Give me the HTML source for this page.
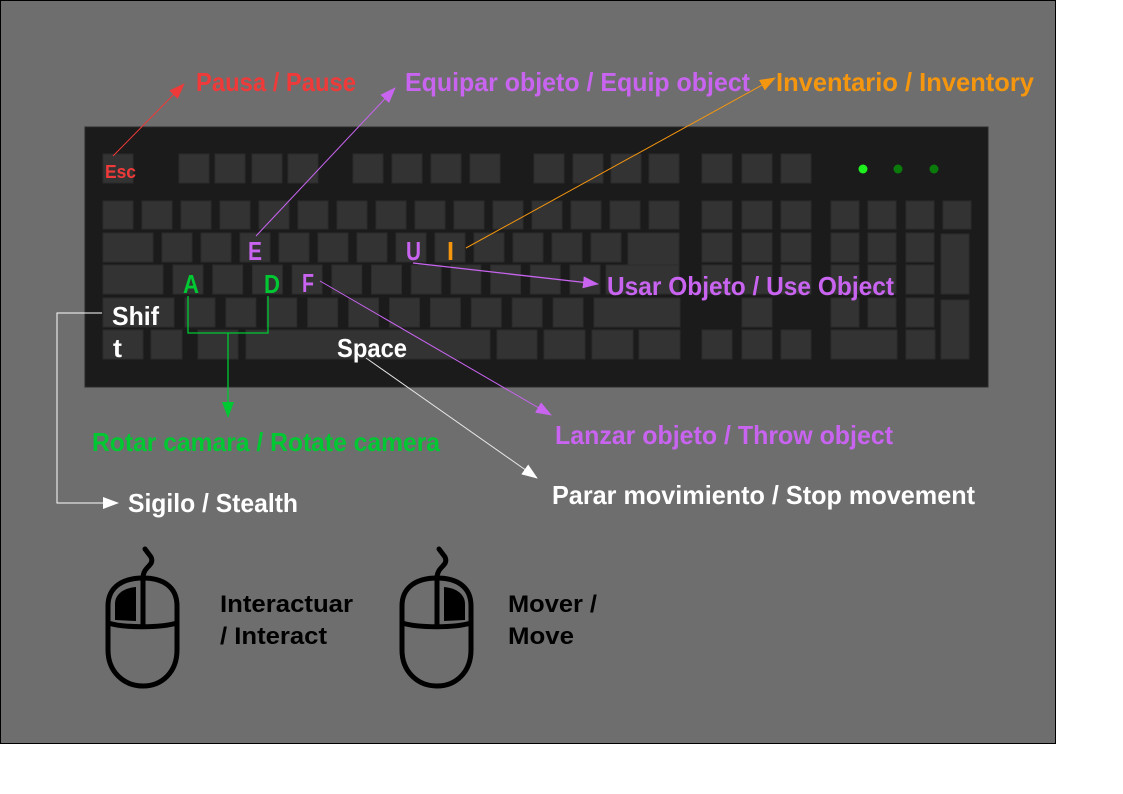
<!DOCTYPE html>
<html><head><meta charset="utf-8"><style>
html,body{margin:0;padding:0;background:#fff;}
svg{display:block;}
text{font-family:"Liberation Sans",sans-serif;font-weight:bold;}
</style></head><body>
<svg id="s" width="1123" height="794" viewBox="0 0 1123 794" xmlns="http://www.w3.org/2000/svg">
<defs>
<marker id="aR" markerWidth="16" markerHeight="12" refX="15" refY="6" orient="auto" markerUnits="userSpaceOnUse"><path d="M0,0 L16,6 L0,12 Z" fill="#f03a3a"/></marker>
<marker id="aP" markerWidth="16" markerHeight="12" refX="15" refY="6" orient="auto" markerUnits="userSpaceOnUse"><path d="M0,0 L16,6 L0,12 Z" fill="#c864f0"/></marker>
<marker id="aO" markerWidth="16" markerHeight="12" refX="15" refY="6" orient="auto" markerUnits="userSpaceOnUse"><path d="M0,0 L16,6 L0,12 Z" fill="#f5960f"/></marker>
<marker id="aW" markerWidth="16" markerHeight="12" refX="15" refY="6" orient="auto" markerUnits="userSpaceOnUse"><path d="M0,0 L16,6 L0,12 Z" fill="#ffffff"/></marker>
<marker id="aG" markerWidth="16" markerHeight="12" refX="15" refY="6" orient="auto" markerUnits="userSpaceOnUse"><path d="M0,0 L16,6 L0,12 Z" fill="#00c832"/></marker>
</defs>
<rect x="0.5" y="0.5" width="1055" height="743" fill="#6e6e6e" stroke="#000" stroke-width="1"/>
<rect x="85" y="127" width="903" height="260" fill="#1b1b1b" stroke="#2a2a2a"/>
<g id="keys"></g>
<circle cx="863" cy="169" r="4.5" fill="#1ef01e"/>
<circle cx="898" cy="169" r="4.5" fill="#0a7a0a"/>
<circle cx="934" cy="169" r="4.5" fill="#0a7a0a"/>

<!-- connectors -->
<line x1="113" y1="156" x2="184" y2="84" stroke="#f03a3a" stroke-width="1" marker-end="url(#aR)"/>
<line x1="256" y1="236" x2="395" y2="88" stroke="#c864f0" stroke-width="1" marker-end="url(#aP)"/>
<line x1="466" y1="248" x2="775" y2="78" stroke="#f5960f" stroke-width="1" marker-end="url(#aO)"/>
<line x1="413" y1="263" x2="598" y2="284" stroke="#c864f0" stroke-width="1.3" marker-end="url(#aP)"/>
<line x1="320" y1="281" x2="551" y2="415" stroke="#c864f0" stroke-width="1" marker-end="url(#aP)"/>
<line x1="366" y1="358" x2="537" y2="478" stroke="#e6e6e6" stroke-width="1" marker-end="url(#aW)"/>
<polyline points="188,296 188,333 268,333 268,296" fill="none" stroke="#00c832" stroke-width="1.3"/>
<line x1="228" y1="333" x2="228" y2="417" stroke="#00c832" stroke-width="1.3" marker-end="url(#aG)"/>
<polyline points="102,313 57,313 57,503 118,503" fill="none" stroke="#fff" stroke-width="1" marker-end="url(#aW)"/>

<!-- key labels -->
<text x="105" y="178" font-size="18" fill="#f03a3a" textLength="31" lengthAdjust="spacingAndGlyphs">Esc</text>
<text x="248" y="260" font-size="26" fill="#c864f0" textLength="14" lengthAdjust="spacingAndGlyphs">E</text>
<text x="406" y="260" font-size="26" fill="#c864f0" textLength="15" lengthAdjust="spacingAndGlyphs">U</text>
<text x="447" y="260" font-size="26" fill="#f5960f" textLength="7" lengthAdjust="spacingAndGlyphs">I</text>
<text x="183" y="293" font-size="26" fill="#00c832" textLength="16" lengthAdjust="spacingAndGlyphs">A</text>
<text x="264" y="293" font-size="26" fill="#00c832" textLength="16" lengthAdjust="spacingAndGlyphs">D</text>
<text x="302" y="292" font-size="26" fill="#c864f0" textLength="12" lengthAdjust="spacingAndGlyphs">F</text>
<text x="112" y="325" font-size="26" fill="#fff" textLength="47" lengthAdjust="spacingAndGlyphs">Shif</text>
<text x="113" y="357" font-size="26" fill="#fff" textLength="9" lengthAdjust="spacingAndGlyphs">t</text>
<text x="337" y="357" font-size="26" fill="#fff" textLength="70" lengthAdjust="spacingAndGlyphs">Space</text>

<!-- action labels -->
<text x="196" y="91" font-size="26" fill="#f03a3a" textLength="160" lengthAdjust="spacingAndGlyphs">Pausa / Pause</text>
<text x="405" y="91" font-size="26" fill="#c864f0" textLength="345" lengthAdjust="spacingAndGlyphs">Equipar objeto / Equip object</text>
<text x="776" y="91" font-size="26" fill="#f5960f" textLength="258" lengthAdjust="spacingAndGlyphs">Inventario / Inventory</text>
<text x="607" y="295" font-size="26" fill="#c864f0" textLength="287" lengthAdjust="spacingAndGlyphs">Usar Objeto / Use Object</text>
<text x="555" y="444" font-size="26" fill="#c864f0" textLength="338" lengthAdjust="spacingAndGlyphs">Lanzar objeto / Throw object</text>
<text x="92" y="451" font-size="26" fill="#00c832" textLength="348" lengthAdjust="spacingAndGlyphs">Rotar camara / Rotate camera</text>
<text x="128" y="512" font-size="26" fill="#fff" textLength="170" lengthAdjust="spacingAndGlyphs">Sigilo / Stealth</text>
<text x="552" y="504" font-size="26" fill="#fff" textLength="423" lengthAdjust="spacingAndGlyphs">Parar movimiento / Stop movement</text>

<!-- mice -->
<g id="mouse-left" fill="none" stroke="#000" stroke-width="5">
<path d="M108,606 C108,586 124,578 143,578 C162,578 177,586 177,606 L177,650 C177,672 162,686 143,686 C124,686 108,672 108,650 Z"/>
<path d="M143,578 L143,625"/>
<path d="M108,623 C125,628 160,628 177,623"/>
<path d="M143,578 C143,566 155,566 151,557 L145,549" stroke-linecap="round"/>
<path d="M115,620 L115,604 C115,594 124,588 136,587 L136,621 Z" fill="#000" stroke="none"/>
</g>
<g id="mouse-right" fill="none" stroke="#000" stroke-width="5" transform="translate(294,0)">
<path d="M108,606 C108,586 124,578 143,578 C162,578 177,586 177,606 L177,650 C177,672 162,686 143,686 C124,686 108,672 108,650 Z"/>
<path d="M143,578 L143,625"/>
<path d="M108,623 C125,628 160,628 177,623"/>
<path d="M143,578 C143,566 155,566 151,557 L145,549" stroke-linecap="round"/>
<path d="M171,620 L171,604 C171,594 162,588 150,587 L150,621 Z" fill="#000" stroke="none"/>
</g>
<text x="220" y="612" font-size="24" fill="#000" textLength="133" lengthAdjust="spacingAndGlyphs">Interactuar</text>
<text x="220" y="644" font-size="24" fill="#000" textLength="107" lengthAdjust="spacingAndGlyphs">/ Interact</text>
<text x="508" y="612" font-size="24" fill="#000" textLength="89" lengthAdjust="spacingAndGlyphs">Mover /</text>
<text x="508" y="644" font-size="24" fill="#000" textLength="66" lengthAdjust="spacingAndGlyphs">Move</text>
</svg>
<script>
var g=document.getElementById('keys');
var NS='http://www.w3.org/2000/svg';
function key(x,y,w,h){
  var r=document.createElementNS(NS,'rect');
  r.setAttribute('x',x);r.setAttribute('y',y);r.setAttribute('width',w);r.setAttribute('height',h);
  r.setAttribute('fill','#333333');r.setAttribute('stroke','#2b2b2b');r.setAttribute('stroke-width','1');
  
  
  g.appendChild(r);
}
// function row
[103,179,215,252,288,353,392,431,470,534,573,611,649,702,742,781].forEach(function(x){key(x,154,30,29);});
// number row
for(var k=0;k<15;k++) key(103+39*k,201,30,28);
[702,742,781].forEach(function(x){key(x,201,30,28);});
[831,868,906,943].forEach(function(x){key(x,201,28,28);});
// qwerty row
key(103,233,50,29);
for(var k=0;k<12;k++) key(162+39*k,233,30,29);
key(628,233,51,61); key(606,265,73,29);
[702,742,781].forEach(function(x){key(x,233,30,29);});
[831,868,906].forEach(function(x){key(x,233,28,29);});
key(941,234,28,60);
// asdf row
key(103,265,60,29);
for(var k=0;k<11;k++) key(173+39.7*k,265,30,29);
[702,742,781].forEach(function(x){key(x,265,30,29);});
[831,868,906].forEach(function(x){key(x,265,28,29);});
// shift row
key(103,298,71,29);
for(var k=0;k<10;k++) key(185+40.9*k,298,30,29);
key(594,298,86,29);
key(742,298,30,29);
[831,868,906].forEach(function(x){key(x,298,28,29);});
key(941,300,28,59);
// bottom row
[[103,40],[151,31],[198,40],[246,244],[497,40],[544,41],[592,41],[639,41],[702,30],[742,30],[781,30],[831,66],[906,29]].forEach(function(a){key(a[0],330,a[1],29);});
</script>
</body></html>
